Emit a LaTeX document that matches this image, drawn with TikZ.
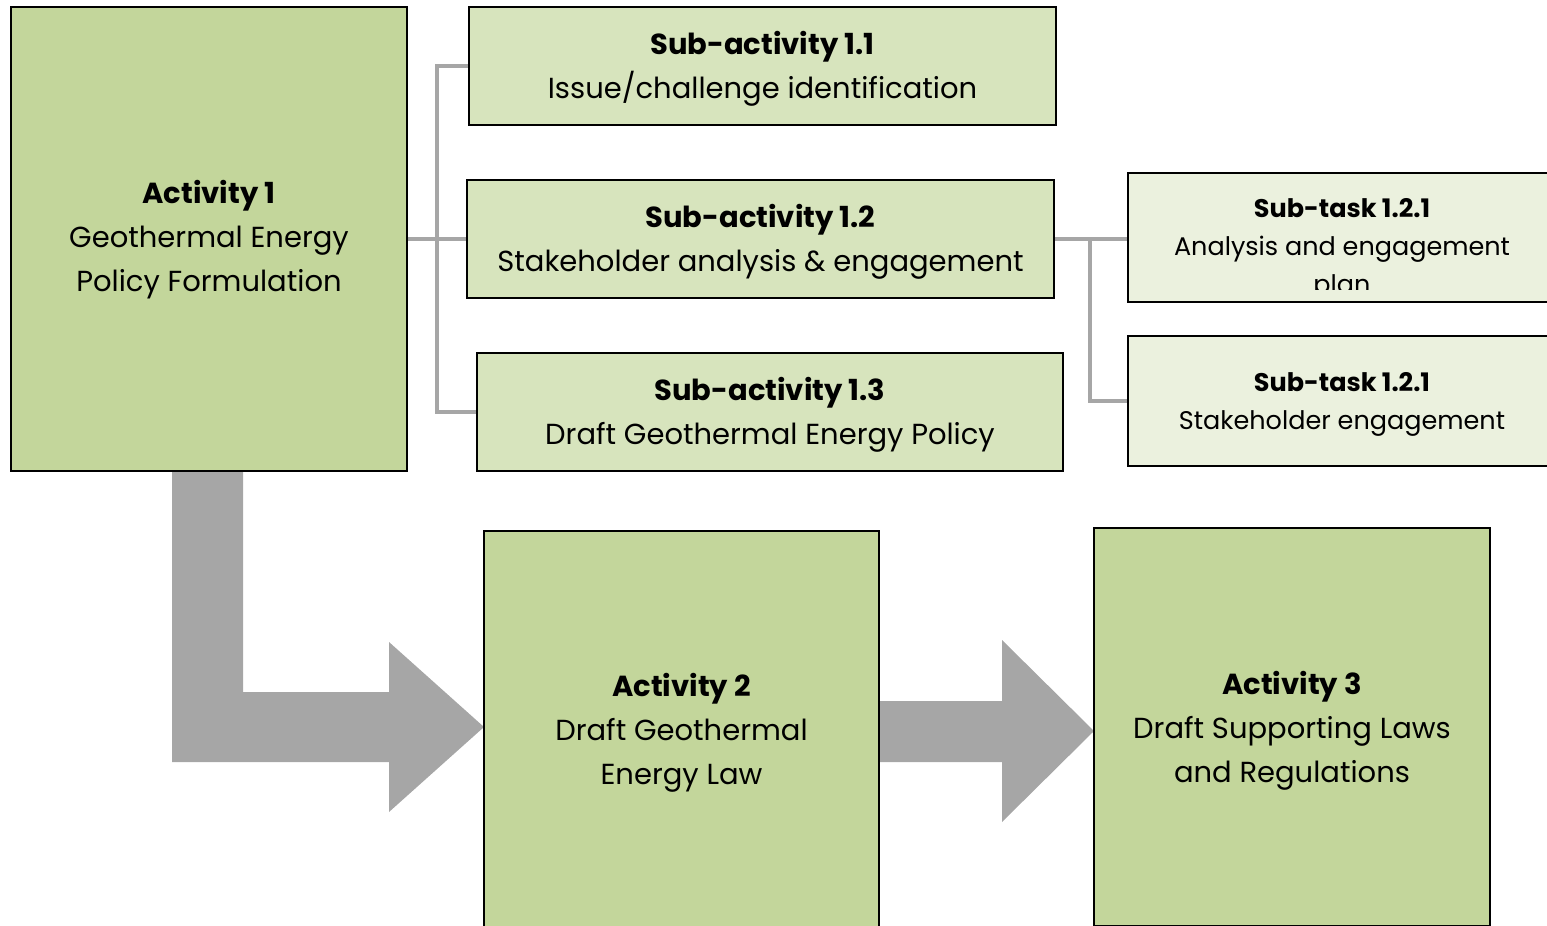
\documentclass[tikz,border=0pt]{standalone}
\usepackage{fontspec}
\setmainfont{Poppins}
\definecolor{actgreen}{HTML}{C3D69B}
\definecolor{subgreen}{HTML}{D7E4BD}
\definecolor{taskgreen}{HTML}{EBF1DE}
\definecolor{arrowgray}{HTML}{A6A6A6}
\begin{document}
\begin{tikzpicture}[x=1pt,y=-1pt,
  box/.style={draw=black,line width=2.5pt,inner sep=0pt},
  actbox/.style={box,fill=actgreen},
  subbox/.style={box,fill=subgreen},
  taskbox/.style={box,fill=taskgreen},
  bigtext/.style={inner sep=0pt,align=center,font=\fontsize{29}{44}\selectfont},
  tasktext/.style={inner sep=0pt,align=center,font=\fontsize{25.5}{38}\selectfont},
  conn/.style={draw=arrowgray,line width=4.5pt},
  bigarrow/.style={fill=arrowgray,draw=none}]
\useasboundingbox (0,0) rectangle (1547,926);
% big arrows (behind boxes)
\fill[bigarrow] (172,465) -- (243,465) -- (243,692) -- (389,692) -- (389,642) -- (484,727) -- (389,812) -- (389,762) -- (172,762) -- cycle;
\fill[bigarrow] (875,701) -- (1002,701) -- (1002,640) -- (1094,731) -- (1002,822) -- (1002,762) -- (875,762) -- cycle;
% activity boxes
\node[actbox,minimum width=396pt,minimum height=464pt] (a1) at (209,239) {};
\node[bigtext] (a1t) at (209,240) {\textbf{Activity 1}\\Geothermal Energy\\Policy Formulation};
\node[actbox,minimum width=395pt,minimum height=398pt] (a2) at (681.5,730) {};
\node[bigtext] (a2t) at (681.5,733) {\textbf{Activity 2}\\Draft Geothermal\\Energy Law};
\node[actbox,minimum width=396pt,minimum height=398pt] (a3) at (1292,727) {};
\node[bigtext] (a3t) at (1292,730.5) {\textbf{Activity 3}\\Draft Supporting Laws\\and Regulations};
% sub-activities
\node[subbox,minimum width=587pt,minimum height=118pt] (s11) at (762.5,66) {};
\node[bigtext] (s11t) at (762.5,69) {\textbf{Sub-activity 1.1}\\Issue/challenge identification};
\node[subbox,minimum width=587pt,minimum height=118pt] (s12) at (760.5,239) {};
\node[bigtext] (s12t) at (760.5,242) {\textbf{Sub-activity 1.2}\\Stakeholder analysis \& engagement};
\node[subbox,minimum width=586pt,minimum height=118pt] (s13) at (770,412) {};
\node[bigtext] (s13t) at (770,415) {\textbf{Sub-activity 1.3}\\Draft Geothermal Energy Policy};
% sub-tasks
\node[taskbox,minimum width=428pt,minimum height=129pt] (st1) at (1342,237.5) {};
\begin{scope}
\clip (1130,175) rectangle (1556,289);
\node[tasktext] (st1t) at (1342,249) {\textbf{Sub-task 1.2.1}\\Analysis and engagement\\plan};
\end{scope}
\node[taskbox,minimum width=428pt,minimum height=130pt] (st2) at (1342,401) {};
\node[tasktext] (st2t) at (1342,404.5) {\textbf{Sub-task 1.2.1}\\Stakeholder engagement};
% connectors
\coordinate (j1) at (437,239);
\coordinate (j2) at (1090,239);
\draw[conn] (a1.east) -- (s12.west);
\draw[conn] (s11.west) -| (j1) |- (s13.west);
\draw[conn] (s12.east) -- (s12.east -| st1.west);
\draw[conn] (j2) |- (st2.west);
\end{tikzpicture}
\end{document}
